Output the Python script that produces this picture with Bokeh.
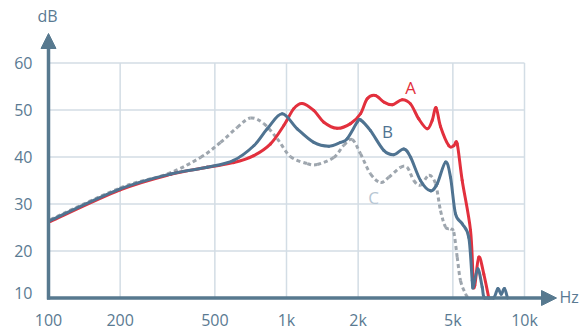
import math
from bokeh.plotting import figure
from bokeh.models import Range1d, Arrow, NormalHead
from bokeh.core.properties import value
from bokeh.embed import file_html
from bokeh.resources import INLINE

# ---- data ----
freq_A = [102, 200, 326, 464, 600, 729, 857, 974, 1073, 1164, 1302, 1435, 1633, 1858, 2046,
          2183, 2365, 2563, 2781, 3063, 3319, 3596, 3902, 4095, 4250, 4437, 4808, 5046, 5215,
          5473, 5931, 6088, 6183, 6427, 6745, 7079]
db_A = [26.3, 33.0, 36.3, 37.8, 38.8, 40.3, 42.8, 46.7, 50.3, 51.4, 49.9, 47.4, 46.1, 47.1, 49.2,
        52.4, 53.1, 51.7, 51.1, 52.2, 51.3, 48.1, 46.0, 47.8, 50.5, 46.5, 42.4, 42.4, 42.8,
        35.0, 24.4, 13.7, 12.7, 18.7, 15.1, 10.0]

freq_B = [102, 200, 326, 464, 600, 729, 830, 959, 1109, 1302, 1506, 1686, 1799, 1982, 2046, 2254,
          2563, 2824, 3111, 3319, 3656, 4027, 4297, 4657, 4888, 5130, 5473, 5834, 6029, 6088,
          6365, 6642, 6791, 7408, 7723, 7982, 8241, 8483]
db_B = [26.5, 33.2, 36.4, 37.8, 39.3, 42.4, 46.0, 49.2, 46.0, 43.1, 42.3, 43.1, 43.9, 47.4, 47.9, 45.6,
        41.4, 40.5, 41.7, 40.0, 35.0, 32.8, 34.3, 38.9, 35.7, 27.9, 25.8, 22.9, 13.7, 12.3,
        16.2, 12.3, 10.0, 10.0, 12.0, 10.8, 12.0, 10.0]

freq_C = [102, 200, 316, 435, 528, 621, 706, 803, 914, 1039, 1222, 1346, 1580, 1741, 1889, 2046,
          2254, 2483, 2691, 3013, 3215, 3426, 3656, 3963, 4228, 4437, 4657, 4888, 5046, 5215,
          5384, 5651, 5817]
db_C = [26.7, 33.4, 36.4, 39.9, 43.1, 46.3, 48.3, 47.1, 43.9, 40.1, 38.6, 38.4, 39.9, 42.5, 43.7, 40.7,
        36.4, 34.6, 35.7, 37.8, 37.8, 35.0, 34.0, 36.1, 34.3, 28.6, 25.1, 24.7, 24.0, 18.7,
        13.7, 10.9, 10.0]

series_names = ["A", "B", "C"]
x_ticks = [100, 200, 500, 1000, 2000, 5000, 10000]
x_tick_labels = ["100", "200", "500", "1k", "2k", "5k", "10k"]
y_ticks = [10, 20, 30, 40, 50, 60]
y_tick_labels = ["10", "20", "30", "40", "50", "60"]

# ---- layout / style ----
W, H = 583, 331
X0_PX, DEC_PX = 48.0, 238.0      # pixel of 100 Hz, pixels per decade
Y10_PX, UNIT_PX = 297.5, 4.7     # pixel of 10 dB, pixels per dB


def fx(px):
    return 100 * 10 ** ((px - X0_PX) / DEC_PX)


def fy(py):
    return 10 + (Y10_PX - py) / UNIT_PX


AXIS = "#57798f"
GRID = "#d3dde5"
TICK = "#5a7a92"
RED = "#e2303d"
BLUE = "#4f7391"
GREY = "#9ea6ae"
FONT = value("Open Sans")

p = figure(width=W, height=H, x_axis_type="log",
           x_range=Range1d(fx(0), fx(W)), y_range=Range1d(fy(H), fy(0)),
           x_axis_location=None, y_axis_location=None, title=None,
           toolbar_location=None, output_backend="svg", min_border=0,
           outline_line_color=None, background_fill_color="white",
           border_fill_color="white")
p.grid.visible = False

xmin, xmax = x_ticks[0], x_ticks[-1]
ymin, ymax = y_ticks[0], y_ticks[-1]

# grid
vx = x_ticks[1:]
p.segment(x0=vx, y0=[ymin] * len(vx), x1=vx, y1=[ymax] * len(vx),
          line_color=GRID, line_width=1.5)
hy = y_ticks[1:]
p.segment(x0=[xmin] * len(hy), y0=hy, x1=[xmax] * len(hy), y1=hy,
          line_color=GRID, line_width=1.5)


def smooth(xs, ys, t=1.0 / 6.0):
    """Cubic Bezier pieces through the data points (Catmull-Rom, in log-x space)."""
    lx = [math.log10(v) for v in xs]
    n = len(xs)
    out = dict(x0=[], y0=[], x1=[], y1=[], cx0=[], cy0=[], cx1=[], cy1=[])
    for i in range(n - 1):
        a = max(i - 1, 0)
        b = min(i + 2, n - 1)
        c1x = lx[i] + (lx[i + 1] - lx[a]) * t
        c1y = ys[i] + (ys[i + 1] - ys[a]) * t
        c2x = lx[i + 1] - (lx[b] - lx[i]) * t
        c2y = ys[i + 1] - (ys[b] - ys[i]) * t
        c1x = min(max(c1x, lx[i]), lx[i + 1])
        c2x = min(max(c2x, lx[i]), lx[i + 1])
        c1y = max(c1y, ymin)
        c2y = max(c2y, ymin)
        out["x0"].append(xs[i]); out["y0"].append(ys[i])
        out["x1"].append(xs[i + 1]); out["y1"].append(ys[i + 1])
        out["cx0"].append(10 ** c1x); out["cy0"].append(c1y)
        out["cx1"].append(10 ** c2x); out["cy1"].append(c2y)
    return out


# curves
p.bezier(**smooth(freq_C, db_C), line_color=GREY, line_width=3, line_dash="4 3")
p.bezier(**smooth(freq_A, db_A), line_color=RED, line_width=3, line_cap="round")
p.bezier(**smooth(freq_B, db_B), line_color=BLUE, line_width=3, line_cap="round")

# series labels
p.text(x=[fx(410)], y=[fy(87)], text=[series_names[0]], text_color=RED,
       text_font=FONT, text_font_size="17px", text_align="center", text_baseline="middle")
p.text(x=[fx(387)], y=[fy(131)], text=[series_names[1]], text_color=BLUE,
       text_font=FONT, text_font_size="17px", text_align="center", text_baseline="middle")
p.text(x=[fx(373)], y=[fy(197)], text=[series_names[2]], text_color="#b7c6d3",
       text_font=FONT, text_font_size="17px", text_align="center", text_baseline="middle")

# tick labels
p.text(x=x_ticks, y=[fy(319)] * len(x_ticks), text=x_tick_labels, text_color=TICK,
       text_font=FONT, text_font_size="16px", text_align="center", text_baseline="middle")
y_lab_pos = [t + (5.5 / UNIT_PX if t == ymin else 0) for t in y_ticks]
p.text(x=[fx(32)] * len(y_ticks), y=y_lab_pos, text=y_tick_labels, text_color=TICK,
       text_font=FONT, text_font_size="16px", text_align="right", text_baseline="middle")

# axis titles
p.text(x=[fx(47)], y=[fy(15)], text=["dB"], text_color=TICK, text_font=FONT,
       text_font_size="16px", text_align="center", text_baseline="middle")
p.text(x=[fx(559)], y=[fy(296)], text=["Hz"], text_color=TICK, text_font=FONT,
       text_font_size="16px", text_align="left", text_baseline="middle")

# axes with arrow heads
p.add_layout(Arrow(end=NormalHead(size=15, fill_color=AXIS, line_color=AXIS),
                   x_start=xmin, y_start=ymin - 1.5 / UNIT_PX, x_end=xmin, y_end=fy(33),
                   line_color=AXIS, line_width=3.5))
p.add_layout(Arrow(end=NormalHead(size=15, fill_color=AXIS, line_color=AXIS),
                   x_start=fx(X0_PX - 1.5), y_start=ymin, x_end=fx(556), y_end=ymin,
                   line_color=AXIS, line_width=3.5))

open("out.html", "w").write(file_html(p, INLINE))
